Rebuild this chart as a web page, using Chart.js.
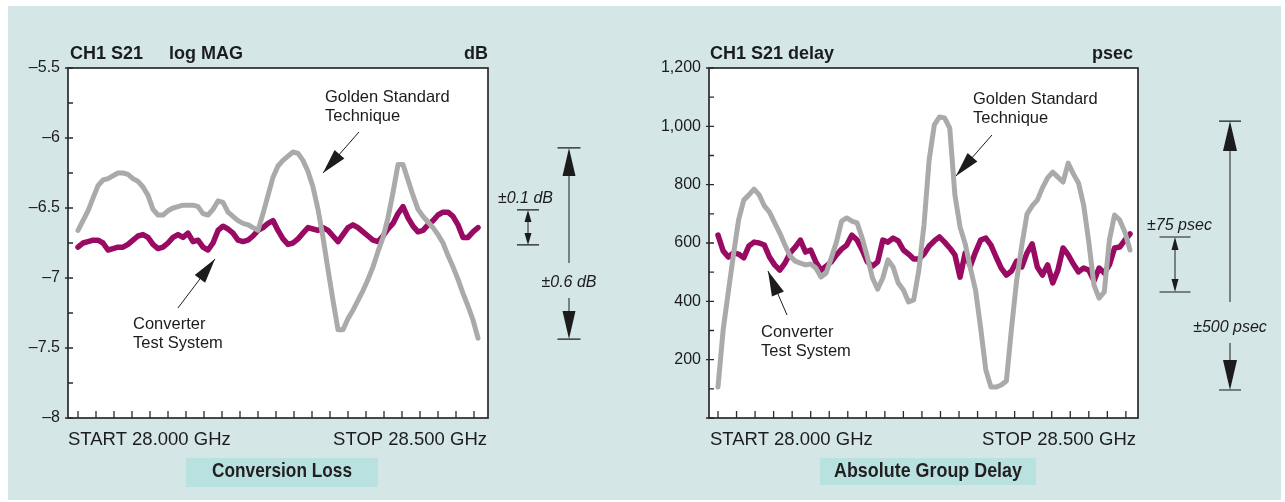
<!DOCTYPE html>
<html>
<head>
<meta charset="utf-8">
<title>Conversion Loss and Absolute Group Delay</title>
<script src="https://cdn.jsdelivr.net/npm/chart.js@4.4.1/dist/chart.umd.min.js"></script>
<style>
  html, body { margin: 0; padding: 0; background: #ffffff; }
  body { width: 1285px; height: 502px; position: relative; overflow: hidden; }
  #panel { position: absolute; left: 8px; top: 6px; width: 1273px; height: 494px; background: #d4e7e6; }
  canvas { position: absolute; top: 0; }
  #lossChart { left: 0; }
  #delayChart { left: 640px; }
</style>
</head>
<body>
<div id="panel"></div>
<canvas id="lossChart" width="640" height="502"></canvas>
<canvas id="delayChart" width="645" height="502"></canvas>
<script>
const sweepStartGHz = 28.0;
const sweepStopGHz = 28.5;
const sweepPoints = 81;
const freqGHz = Array.from({ length: sweepPoints }, (_, i) =>
  sweepStartGHz + (i * (sweepStopGHz - sweepStartGHz)) / (sweepPoints - 1));
const freqTickStep = 0.0225;
const freqTicks = Array.from({ length: 23 }, (_, i) => sweepStartGHz + i * freqTickStep);

// conversion loss, dB
const lossGolden = [
  -6.66, -6.59, -6.52, -6.43, -6.34, -6.30, -6.29, -6.27, -6.25, -6.25,
  -6.26, -6.29, -6.31, -6.35, -6.41, -6.51, -6.55, -6.55, -6.52, -6.50,
  -6.49, -6.48, -6.48, -6.48, -6.49, -6.54, -6.55, -6.51, -6.45, -6.46,
  -6.53, -6.56, -6.59, -6.61, -6.62, -6.64, -6.66, -6.54, -6.41, -6.28,
  -6.20, -6.16, -6.13, -6.10, -6.11, -6.16, -6.24, -6.35, -6.51, -6.71,
  -6.94, -7.16, -7.37, -7.37, -7.29, -7.23, -7.16, -7.09, -7.01, -6.92,
  -6.81, -6.71, -6.57, -6.39, -6.19, -6.19, -6.30, -6.41, -6.51, -6.56,
  -6.60, -6.64, -6.69, -6.75, -6.84, -6.92, -7.01, -7.11, -7.20, -7.30,
  -7.43,
];
const lossConverter = [
  -6.78, -6.75, -6.74, -6.73, -6.73, -6.75, -6.80, -6.79, -6.78, -6.78,
  -6.76, -6.73, -6.70, -6.69, -6.71, -6.76, -6.79, -6.78, -6.75, -6.71,
  -6.69, -6.71, -6.68, -6.74, -6.73, -6.78, -6.80, -6.75, -6.66, -6.63,
  -6.65, -6.68, -6.73, -6.74, -6.73, -6.70, -6.66, -6.64, -6.61, -6.59,
  -6.66, -6.72, -6.76, -6.75, -6.72, -6.68, -6.64, -6.65, -6.66, -6.64,
  -6.66, -6.70, -6.74, -6.69, -6.64, -6.62, -6.64, -6.67, -6.70, -6.73,
  -6.74, -6.70, -6.65, -6.61, -6.54, -6.49, -6.57, -6.63, -6.67, -6.66,
  -6.62, -6.59, -6.55, -6.53, -6.53, -6.56, -6.62, -6.71, -6.71, -6.67,
  -6.64,
];

// absolute group delay, psec
const delayGolden = [
  106, 302, 432, 559, 679, 747, 765, 785, 765, 727,
  706, 669, 634, 593, 555, 538, 531, 525, 528, 514,
  483, 497, 549, 603, 675, 686, 675, 669, 617, 552,
  480, 442, 480, 542, 518, 463, 439, 398, 405, 507,
  662, 885, 1005, 1032, 1029, 994, 765, 655, 597, 514,
  439, 309, 165, 106, 106, 113, 127, 309, 473, 593,
  699, 727, 747, 789, 823, 843, 826, 809, 874, 837,
  806, 730, 603, 456, 411, 432, 610, 696, 679, 638,
  576,
];
const delayConverter = [
  627, 573, 552, 566, 562, 549, 590, 603, 600, 593,
  552, 525, 507, 531, 566, 586, 610, 569, 576, 535,
  507, 521, 535, 559, 579, 593, 627, 610, 576, 535,
  521, 535, 610, 603, 617, 607, 576, 562, 545, 545,
  562, 590, 607, 621, 603, 583, 559, 483, 566, 521,
  569, 610, 617, 593, 552, 514, 490, 504, 538, 518,
  566, 597, 518, 490, 525, 463, 507, 583, 559, 528,
  501, 514, 507, 470, 514, 497, 525, 583, 586, 610,
  631,
];

const lossTicks = [-8, -7.5, -7, -6.5, -6, -5.5];
const delayTicks = [0, 200, 400, 600, 800, 1000, 1200];

const ink = "#1c1c1c";
const magenta = "#990a62";
const gray = "#aaaaaa";
const sansFont = '"Liberation Sans", Arial, Helvetica, sans-serif';

function points(values) {
  return values.map((v, i) => ({ x: freqGHz[i], y: v }));
}

function arrowHead(ctx, tipX, tipY, fromX, fromY, len, half) {
  const ang = Math.atan2(tipY - fromY, tipX - fromX);
  const bx = tipX - Math.cos(ang) * len;
  const by = tipY - Math.sin(ang) * len;
  const nx = -Math.sin(ang) * half;
  const ny = Math.cos(ang) * half;
  ctx.beginPath();
  ctx.moveTo(tipX, tipY);
  ctx.lineTo(bx + nx, by + ny);
  ctx.lineTo(bx - nx, by - ny);
  ctx.closePath();
  ctx.fill();
}

const framePlugin = {
  id: "frame",
  beforeDraw(chart) {
    const { ctx, chartArea: a } = chart;
    ctx.save();
    ctx.fillStyle = "#ffffff";
    ctx.fillRect(a.left, a.top, a.width, a.height);
    ctx.restore();
  },
  afterDatasetsDraw(chart) {
    const { ctx, chartArea: a, scales } = chart;
    const x = scales.x;
    const y = scales.y;
    ctx.save();
    ctx.strokeStyle = "#2a2a2a";
    ctx.lineWidth = 1.7;
    ctx.strokeRect(a.left, a.top, a.width, a.height);
    ctx.lineWidth = 1.3;
    ctx.beginPath();
    x.ticks.forEach((t) => {
      const px = x.getPixelForValue(t.value);
      ctx.moveTo(px, a.bottom);
      ctx.lineTo(px, a.bottom - 7);
    });
    y.ticks.forEach((t, i) => {
      const py = y.getPixelForValue(t.value);
      ctx.moveTo(a.left - 3, py);
      ctx.lineTo(a.left + 5, py);
      if (i < y.ticks.length - 1) {
        const pm = y.getPixelForValue((t.value + y.ticks[i + 1].value) / 2);
        ctx.moveTo(a.left, pm);
        ctx.lineTo(a.left + 5, pm);
      }
    });
    ctx.stroke();
    ctx.restore();
  },
};

const notesPlugin = {
  id: "notes",
  afterDraw(chart, args, opts) {
    const { ctx, chartArea: a, scales } = chart;
    const x = scales.x;
    const y = scales.y;
    ctx.save();
    ctx.fillStyle = ink;
    ctx.strokeStyle = ink;
    ctx.textBaseline = "alphabetic";

    ctx.font = `bold 18px ${sansFont}`;
    opts.header.forEach((h) => {
      ctx.textAlign = h.align;
      ctx.fillText(h.text, h.align === "right" ? a.right + h.dx : a.left + h.dx, a.top - 9);
    });

    ctx.font = `18.5px ${sansFont}`;
    ctx.textAlign = "left";
    ctx.fillText(opts.startLabel, a.left + opts.startDx, a.bottom + 27);
    ctx.textAlign = "right";
    ctx.fillText(opts.stopLabel, a.right + opts.stopDx, a.bottom + 27);

    // caption strip, condensed bold text
    const cap = opts.caption;
    ctx.fillStyle = "#b9e1e0";
    ctx.fillRect(cap.left, cap.top, cap.width, cap.height);
    ctx.fillStyle = "#231f20";
    ctx.font = `bold 21px ${sansFont}`;
    ctx.textAlign = "center";
    ctx.fillText(cap.text, cap.left + cap.width / 2, 477, cap.textWidth);

    // callouts
    ctx.fillStyle = ink;
    ctx.font = `16.5px ${sansFont}`;
    ctx.textAlign = "left";
    ctx.lineWidth = 1;
    opts.callouts.forEach((c) => {
      const tx = x.getPixelForValue(c.at[0]);
      const ty = y.getPixelForValue(c.at[1]);
      c.lines.forEach((line, i) => ctx.fillText(line, tx, ty + i * 19));
      const ax = x.getPixelForValue(c.tail[0]);
      const ay = y.getPixelForValue(c.tail[1]);
      const px = x.getPixelForValue(c.tip[0]);
      const py = y.getPixelForValue(c.tip[1]);
      ctx.beginPath();
      ctx.moveTo(ax, ay);
      ctx.lineTo(px, py);
      ctx.stroke();
      arrowHead(ctx, px, py, ax, ay, 25, 6.5);
    });

    // spread markers beside the plot
    ctx.font = `italic 16px ${sansFont}`;
    ctx.textAlign = "center";
    opts.spans.forEach((s) => {
      const cx = a.right + s.dx;
      const top = y.getPixelForValue(s.top);
      const bottom = y.getPixelForValue(s.bottom);
      ctx.lineWidth = 1.2;
      ctx.beginPath();
      ctx.moveTo(cx - s.bar, top);
      ctx.lineTo(cx + s.bar, top);
      ctx.moveTo(cx - s.bar, bottom);
      ctx.lineTo(cx + s.bar, bottom);
      ctx.stroke();
      ctx.lineWidth = 1;
      ctx.beginPath();
      if (s.labelAt !== undefined) {
        const ly = y.getPixelForValue(s.labelAt);
        ctx.fillText(s.label, cx + s.labelDx, ly);
        ctx.moveTo(cx, top + s.head);
        ctx.lineTo(cx, ly - s.gap);
        ctx.moveTo(cx, ly + 11);
        ctx.lineTo(cx, bottom - s.head);
      } else {
        ctx.fillText(s.label, cx + s.labelDx, top - 7);
        ctx.moveTo(cx, top + s.head);
        ctx.lineTo(cx, bottom - s.head);
      }
      ctx.stroke();
      arrowHead(ctx, cx, top, cx, top + 10, s.head, s.half);
      arrowHead(ctx, cx, bottom, cx, bottom - 10, s.head, s.half);
    });
    ctx.restore();
  },
};

function makeChart(canvasId, setup) {
  return new Chart(document.getElementById(canvasId), {
    type: "line",
    data: {
      datasets: [
        {
          label: "Golden Standard Technique",
          data: points(setup.golden),
          borderColor: gray,
          borderWidth: 5,
          pointRadius: 0,
          tension: 0,
          borderJoinStyle: "round",
          borderCapStyle: "round",
        },
        {
          label: "Converter Test System",
          data: points(setup.converter),
          borderColor: magenta,
          borderWidth: 5.5,
          pointRadius: 0,
          tension: 0,
          borderJoinStyle: "round",
          borderCapStyle: "round",
        },
      ],
    },
    options: {
      responsive: false,
      animation: false,
      devicePixelRatio: 1,
      events: [],
      layout: { padding: { left: 0, top: 68, right: setup.padRight, bottom: 0 } },
      plugins: {
        legend: { display: false },
        tooltip: { enabled: false },
        notes: setup.notes,
      },
      scales: {
        x: {
          type: "linear",
          min: setup.xMin,
          max: setup.xMax,
          grid: { display: false },
          border: { display: false },
          ticks: { display: false },
          afterBuildTicks: (scale) => {
            scale.ticks = freqTicks.map((v) => ({ value: v }));
          },
          afterFit: (scale) => {
            scale.height = 84;
          },
        },
        y: {
          type: "linear",
          min: setup.yTicks[0],
          max: setup.yTicks[setup.yTicks.length - 1],
          grid: { display: false, drawTicks: false },
          border: { display: false },
          ticks: {
            padding: 8,
            color: ink,
            font: { family: sansFont, size: 16 },
            callback: setup.tickLabel,
          },
          afterBuildTicks: (scale) => {
            scale.ticks = setup.yTicks.map((v) => ({ value: v }));
          },
          afterFit: (scale) => {
            scale.width = setup.yWidth;
          },
        },
      },
    },
    plugins: [framePlugin, notesPlugin],
  });
}

makeChart("lossChart", {
  golden: lossGolden,
  converter: lossConverter,
  yTicks: lossTicks,
  tickLabel: (v) => (v < 0 ? "\u2013" + Math.abs(v) : String(v)),
  xMin: 27.9875,
  xMax: 28.5125,
  yWidth: 68,
  padRight: 152,
  notes: {
    header: [
      { text: "CH1 S21", dx: 2, align: "left" },
      { text: "log MAG", dx: 101, align: "left" },
      { text: "dB", dx: 0, align: "right" },
    ],
    startLabel: "START 28.000 GHz",
    stopLabel: "STOP 28.500 GHz",
    startDx: 0,
    stopDx: -1,
    caption: { text: "Conversion Loss", left: 186, top: 458, width: 192, height: 29, textWidth: 140 },
    callouts: [
      { lines: ["Golden Standard", "Technique"], at: [28.30875, -5.743], tail: [28.35125, -5.957], tip: [28.30625, -6.25] },
      { lines: ["Converter", "Test System"], at: [28.06875, -7.364], tail: [28.125, -7.214], tip: [28.17125, -6.864] },
    ],
    spans: [
      { label: "\u00b10.1 dB", top: -6.514, bottom: -6.764, dx: 40, bar: 11, head: 12, half: 3.5, labelDx: -2.5 },
      { label: "\u00b10.6 dB", top: -6.071, bottom: -7.436, dx: 81, bar: 11.5, head: 28, half: 6.5, labelDx: 0, labelAt: -7.064, gap: 24 },
    ],
  },
});

makeChart("delayChart", {
  golden: delayGolden,
  converter: delayConverter,
  yTicks: delayTicks,
  tickLabel: (v) => (v === 0 ? "" : v.toLocaleString("en-US")),
  xMin: 27.98908,
  xMax: 28.50971,
  yWidth: 69,
  padRight: 147,
  notes: {
    header: [
      { text: "CH1 S21 delay", dx: 1, align: "left" },
      { text: "psec", dx: -5, align: "right" },
    ],
    startLabel: "START 28.000 GHz",
    stopLabel: "STOP 28.500 GHz",
    startDx: 1,
    stopDx: -2,
    caption: { text: "Absolute Group Delay", left: 180, top: 458, width: 216, height: 27, textWidth: 188 },
    callouts: [
      { lines: ["Golden Standard", "Technique"], at: [28.30947, 1076.6], tail: [28.33252, 970.3], tip: [28.28883, 829.7] },
      { lines: ["Converter", "Test System"], at: [28.05218, 277.7], tail: [28.08374, 353.1], tip: [28.06068, 504] },
    ],
    spans: [
      { label: "\u00b175 psec", top: 620.6, bottom: 432, dx: 37, bar: 15.5, head: 13, half: 3.5, labelDx: 4.5 },
      { label: "\u00b1500 psec", top: 1018, bottom: 96, dx: 92, bar: 11, head: 30, half: 7, labelDx: 0, labelAt: 295, gap: 30 },
    ],
  },
});
</script>
</body>
</html>
